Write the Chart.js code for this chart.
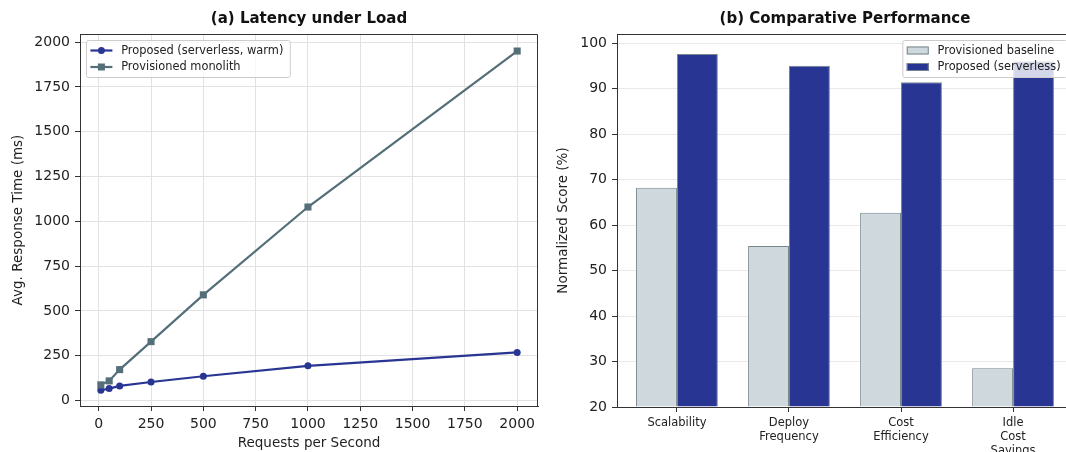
<!DOCTYPE html>
<html><head><meta charset="utf-8">
<script src="https://cdn.jsdelivr.net/npm/chart.js@4/dist/chart.umd.min.js"></script>
<style>
html,body{margin:0;padding:0;background:#fff;overflow:hidden;width:1066px;height:452px;position:relative}
canvas{position:absolute;top:0}
#c1{left:0}
#c2{left:545px}
</style></head><body>
<canvas id="c1" width="545" height="452"></canvas>
<canvas id="c2" width="550" height="452"></canvas>
<script>
// ---- data ----
const rps = [10, 50, 100, 250, 500, 1000, 2000];
const proposedLatency = [58, 67, 82, 104, 136, 194, 269];
const monolithLatency = [88, 110, 173, 329, 590, 1080, 1950];
const rpsTicks = [0, 250, 500, 750, 1000, 1250, 1500, 1750, 2000];
const latencyTicks = [0, 250, 500, 750, 1000, 1250, 1500, 1750, 2000];
const lineSeriesNames = ['Proposed (serverless, warm)', 'Provisioned monolith'];

const categories = ['Scalability', 'Deploy Frequency', 'Cost Efficiency', 'Idle Cost Savings'];
const baselineScores = [68.2, 55.4, 62.7, 28.5];
const proposedScores = [97.6, 95.0, 91.4, 96.0];
const scoreTicks = [20, 30, 40, 50, 60, 70, 80, 90, 100];
const barSeriesNames = ['Provisioned baseline', 'Proposed (serverless)'];

// ---- styling ----
const FONT = "'DejaVu Sans', sans-serif";
Chart.defaults.font.family = FONT;
Chart.defaults.color = '#222';
const NAVY = '#283593', SLATE = '#546E7A', LIGHT = '#CFD8DC', EDGE = '#78868d';
const AXIS = '#333', GRID = '#e2e2e2';

const framePlugin = {
  id: 'frame',
  afterDraw(chart, args, opts) {
    const {ctx, chartArea: a} = chart;
    ctx.save();
    // top & right spines
    ctx.strokeStyle = AXIS; ctx.lineWidth = 1;
    ctx.beginPath();
    ctx.moveTo(Math.round(a.left) + 0.5, Math.round(a.top) + 0.5);
    ctx.lineTo(Math.round(a.right) - 0.5, Math.round(a.top) + 0.5);
    ctx.lineTo(Math.round(a.right) - 0.5, Math.round(a.bottom) + 0.5);
    ctx.stroke();
    // title
    ctx.fillStyle = '#111';
    ctx.font = 'bold 15px ' + FONT;
    ctx.textAlign = 'center'; ctx.textBaseline = 'middle';
    ctx.fillText(opts.title, (a.left + a.right) / 2, 19);
    // legend
    ctx.font = '11.4px ' + FONT;
    const ds = chart.data.datasets;
    const pad = 4.4, hl = 22, tp = 8.8;
    let tw = 0; ds.forEach(d => tw = Math.max(tw, ctx.measureText(d.label).width));
    const w = pad + hl + tp + tw + pad + 2, h = 37;
    const x0 = opts.corner === 'tl' ? a.left + 6 : a.right - 6 - w;
    const y0 = a.top + 6;
    ctx.fillStyle = 'rgba(255,255,255,0.8)';
    ctx.strokeStyle = '#cccccc';
    ctx.beginPath();
    if (ctx.roundRect) ctx.roundRect(x0 + 0.5, y0 + 0.5, w, h, 2); else ctx.rect(x0 + 0.5, y0 + 0.5, w, h);
    ctx.fill(); ctx.stroke();
    ds.forEach((d, i) => {
      const cy = y0 + 10.5 + i * 16.5;
      const hx = x0 + pad;
      if (opts.kind === 'line') {
        ctx.strokeStyle = d.borderColor; ctx.lineWidth = 2.2;
        ctx.beginPath(); ctx.moveTo(hx, cy); ctx.lineTo(hx + hl, cy); ctx.stroke();
        ctx.fillStyle = d.borderColor;
        const mx = hx + hl / 2;
        ctx.beginPath();
        if (d.pointStyle === 'rect') ctx.rect(mx - 3.5, cy - 3.5, 7, 7);
        else ctx.arc(mx, cy, 3.5, 0, Math.PI * 2);
        ctx.fill();
      } else {
        ctx.fillStyle = d.backgroundColor; ctx.strokeStyle = d.borderColor; ctx.lineWidth = 1;
        ctx.fillRect(hx, cy - 4, hl, 8);
        ctx.strokeRect(hx + 0.5, cy - 4 + 0.5, hl - 1, 7);
      }
      ctx.fillStyle = '#222';
      ctx.textAlign = 'left'; ctx.textBaseline = 'middle';
      ctx.fillText(d.label, hx + hl + tp, cy + 0.5);
    });
    ctx.restore();
  }
};

const setTicks = arr => s => { s.ticks = arr.map(v => ({value: v})); };

new Chart(document.getElementById('c1'), {
  type: 'line',
  data: {
    datasets: [
      {label: lineSeriesNames[0], data: rps.map((x, i) => ({x, y: proposedLatency[i]})),
       borderColor: NAVY, backgroundColor: NAVY, borderWidth: 2.2, pointStyle: 'circle',
       pointRadius: 3.5, pointBorderWidth: 0, order: 1},
      {label: lineSeriesNames[1], data: rps.map((x, i) => ({x, y: monolithLatency[i]})),
       borderColor: SLATE, backgroundColor: SLATE, borderWidth: 2.2, pointStyle: 'rect',
       pointRadius: 5, pointBorderWidth: 0, order: 0}
    ]
  },
  options: {
    responsive: false, animation: false,
    layout: {padding: {top: 34, right: 7, left: 0, bottom: 0}},
    scales: {
      x: {type: 'linear', min: -89.5, max: 2099.5,
          afterBuildTicks: setTicks(rpsTicks), afterFit: s => { s.height = 46; },
          grid: {color: GRID, tickColor: AXIS, tickLength: 5},
          border: {color: AXIS, width: 1},
          ticks: {font: {size: 14}, padding: 5, color: '#222', callback: v => String(v)},
          title: {display: true, text: 'Requests per Second', font: {size: 13.5}, color: '#222', padding: {top: 0, bottom: 0}}},
      y: {type: 'linear', min: -30, max: 2045,
          afterBuildTicks: setTicks(latencyTicks), afterFit: s => { s.width = 80; },
          grid: {color: GRID, tickColor: AXIS, tickLength: 5},
          border: {color: AXIS, width: 1},
          ticks: {font: {size: 14}, padding: 5, color: '#222', callback: v => String(v)},
          title: {display: true, text: 'Avg. Response Time (ms)', font: {size: 13.5}, color: '#222', padding: {top: 10, bottom: 0}}}
    },
    plugins: {legend: {display: false}, tooltip: {enabled: false},
              frame: {title: '(a) Latency under Load', corner: 'tl', kind: 'line'}}
  },
  plugins: [framePlugin]
});

new Chart(document.getElementById('c2'), {
  type: 'bar',
  data: {
    datasets: [
      {label: barSeriesNames[0], data: baselineScores.map((y, i) => ({x: i, y})),
       backgroundColor: LIGHT, borderColor: EDGE, borderWidth: 1, base: 20},
      {label: barSeriesNames[1], data: proposedScores.map((y, i) => ({x: i, y})),
       backgroundColor: NAVY, borderColor: EDGE, borderWidth: 1, base: 20}
    ]
  },
  options: {
    responsive: false, animation: false,
    categoryPercentage: 0.73, barPercentage: 1.0,
    layout: {padding: {top: 34, right: 22, left: 0, bottom: 0}},
    scales: {
      x: {type: 'linear', min: -0.535, max: 3.535, offset: false,
          afterBuildTicks: setTicks([0, 1, 2, 3]), afterFit: s => { s.height = 45; },
          grid: {drawOnChartArea: false, offset: false, tickColor: AXIS, tickLength: 5},
          border: {color: AXIS, width: 1},
          ticks: {font: {size: 11.5, lineHeight: 1.22}, padding: 4, color: '#222',
                  callback: v => categories[v] ? categories[v].split(' ') : ''}},
      y: {type: 'linear', min: 20, max: 102,
          afterBuildTicks: setTicks(scoreTicks), afterFit: s => { s.width = 72; },
          grid: {color: '#e9e9e9', tickColor: AXIS, tickLength: 5},
          border: {color: AXIS, width: 1},
          ticks: {font: {size: 14}, padding: 5, color: '#222', callback: v => String(v)},
          title: {display: true, text: 'Normalized Score (%)', font: {size: 13.5}, color: '#222', padding: {top: 10, bottom: 0}}}
    },
    plugins: {legend: {display: false}, tooltip: {enabled: false},
              frame: {title: '(b) Comparative Performance', corner: 'tr', kind: 'bar'}}
  },
  plugins: [framePlugin]
});
</script>
</body></html>
